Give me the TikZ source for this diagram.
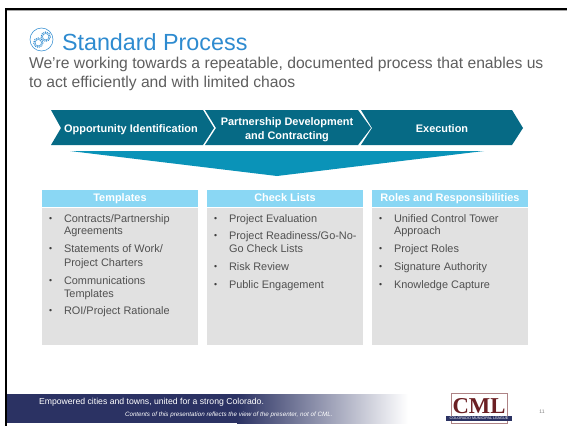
\documentclass[tikz,border=0pt]{standalone}
\usepackage{fontspec}
\setmainfont{Liberation Sans}
\newfontfamily\logofont{Liberation Serif}
\definecolor{chev}{HTML}{066A85}
\definecolor{funnel}{HTML}{0A93B8}
\definecolor{hdr}{HTML}{8AD7F4}
\definecolor{bodyg}{HTML}{E1E1E1}
\definecolor{titleblue}{HTML}{2E8BD0}
\definecolor{subg}{HTML}{5F5F5F}
\definecolor{listg}{HTML}{505050}
\definecolor{navy}{HTML}{2B3263}
\definecolor{logored}{HTML}{6B1F23}
\tikzset{
  x=0.75pt,y=-0.75pt,
  txt/.style={anchor=base west,inner sep=0pt,outer sep=0pt},
  chevtext/.style={text=white,font=\fontsize{8.2}{10.5}\selectfont\bfseries,align=center,inner sep=0pt},
  chevbase/.style={anchor=base,text=white,font=\fontsize{8.2}{10.5}\selectfont\bfseries,inner sep=0pt},
  hdrtext/.style={anchor=base,text=white,font=\fontsize{8.2}{10}\selectfont\bfseries,inner sep=0pt},
  item/.style={txt,text=listg,font=\fontsize{8.2}{10}\selectfont},
  bul/.style={txt,text=black!75,font=\fontsize{6.5}{7}\selectfont},
  gear/.style={draw=titleblue,line width=0.9pt,dash pattern=on 0.7pt off 0.7pt},
  subtext/.style={txt,text=subg,font=\fontsize{11.75}{14}\selectfont}
}
\newcommand{\gearicon}[2]{%
 \draw[titleblue,line width=0.35pt] (#1,#2) circle (3.2);
 \draw[gear] (#1,#2) circle (4.6);
}
\newcommand{\li}[3]{\node[bul] at (#1,#2-1) {•}; \node[item] at (#1+15,#2) {#3};}
\begin{document}
\begin{tikzpicture}
\useasboundingbox (0,0) rectangle (567,426);
\fill[white] (0,0) rectangle (567,426);
% border
\fill[black!35] (5,10) rectangle (567,11);
\fill[black] (5,8) rectangle (567,10);
\fill[black] (5,8) rectangle (7,426);
% icon
\draw[titleblue,line width=0.4pt] (41.5,39.5) circle (11.5);
\gearicon{38.3}{42.7}
\gearicon{45.7}{36.7}
% title
\node[txt,text=titleblue,font=\fontsize{17.5}{20}\selectfont] (title) at (62,50) {Standard Process};
\node[subtext] (sub1) at (29,68.5) {We’re working towards a repeatable, documented process that enables us};
\node[subtext] (sub2) at (29,87.5) {to act efficiently and with limited chaos};
% chevrons
\fill[chev] (51,110) -- (203,110) -- (214,128) -- (203,145) -- (51,145) -- (61,128) -- cycle;
\fill[chev] (205,110) -- (358,110) -- (371,128) -- (358,145) -- (205,145) -- (216,128) -- cycle;
\fill[chev] (361,110) -- (512,110) -- (523,128) -- (512,145) -- (361,145) -- (372,128) -- cycle;
\node[chevbase] (c1) at (131,132.5) {Opportunity Identification};
\node[chevtext] (c2) at (287,130) {Partnership Development\\and Contracting};
\node[chevbase] (c3) at (442,132.5) {Execution};
% funnel
\fill[funnel] (70,151) -- (484,151) -- (277,176) -- cycle;
% boxes
\fill[hdr] (42,190) rectangle (198,207);
\fill[hdr] (207,190) rectangle (363,207);
\fill[hdr] (372,190) rectangle (528,207);
\fill[bodyg] (42,208) rectangle (198,345);
\fill[bodyg] (207,208) rectangle (363,345);
\fill[bodyg] (372,208) rectangle (528,345);
\node[hdrtext] (h1) at (120,201.7) {Templates};
\node[hdrtext] (h2) at (285,201.7) {Check Lists};
\node[hdrtext] (h3) at (450,201.7) {Roles and Responsibilities};
% lists
\li{49}{222}{Contracts/Partnership}
\node[item] at (64,234) {Agreements};
\li{49}{252}{Statements of Work/}
\node[item] at (64,266) {Project Charters};
\li{49}{284}{Communications}
\node[item] at (64,297) {Templates};
\li{49}{314}{ROI/Project Rationale}
\li{214}{222}{Project Evaluation}
\li{214}{239}{Project Readiness/Go-No-}
\node[item] at (229,252) {Go Check Lists};
\li{214}{270}{Risk Review}
\li{214}{288}{Public Engagement}
\li{379}{222}{Unified Control Tower}
\node[item] at (394,234) {Approach};
\li{379}{252}{Project Roles}
\li{379}{270}{Signature Authority}
\li{379}{288}{Knowledge Capture}
% footer
\fill[navy] (7,394) rectangle (237,423);
\shade[left color=navy,right color=white] (237,394) rectangle (408,423);
\node[txt,text=white,font=\fontsize{6.5}{7}\selectfont] (f1) at (39,404.5) {Empowered cities and towns, united for a strong Colorado.};
\node[txt,text=white,font=\fontsize{4.7}{6}\selectfont\itshape] (f2) at (125,416) {Contents of this presentation reflects the view of the presenter, not of CML.};
% logo
\draw[logored!55!white,line width=0.6pt,fill=white] (451,393) rectangle (507,423);
\node[anchor=base,text=logored,font=\fontsize{17}{18}\logofont\bfseries\selectfont,inner sep=0pt] (cml) at (479,413) {CML};
\fill[navy] (446,416) rectangle (512,421);
\node[text=white,font=\fontsize{2.8}{3}\selectfont,inner sep=0pt] (league) at (479,418.5) {COLORADO MUNICIPAL LEAGUE};
\node[text=gray,font=\fontsize{3.8}{4}\selectfont,inner sep=0pt] (pg) at (542,412) {11};
\end{tikzpicture}
\end{document}
